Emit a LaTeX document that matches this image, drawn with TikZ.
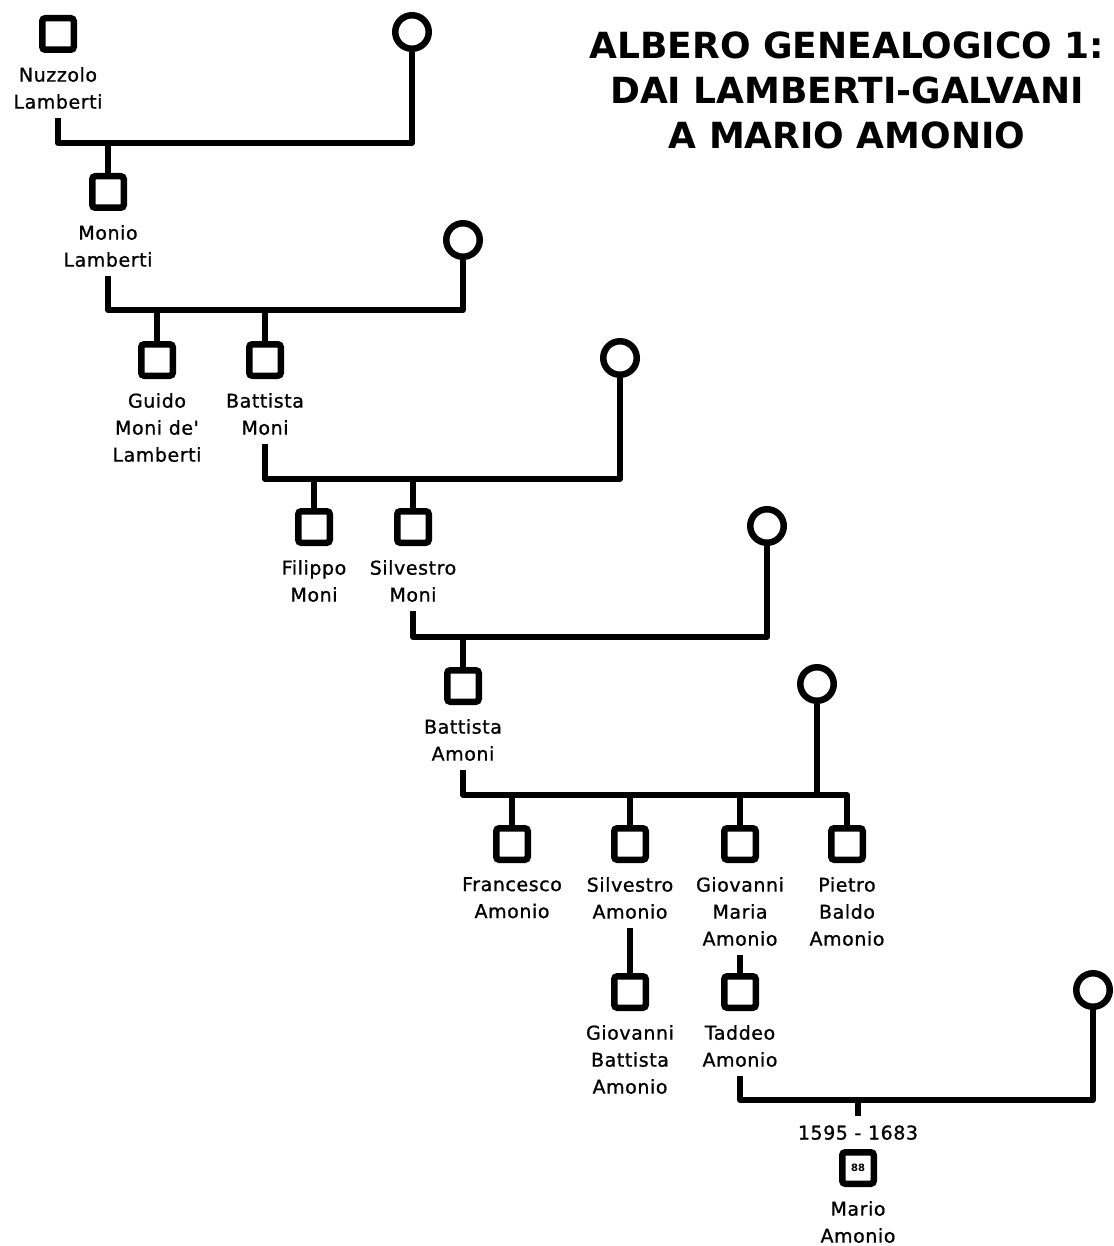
\documentclass[tikz,border=0pt]{standalone}
\usepackage{fontspec}
\setmainfont{DejaVu Sans}
\newfontfamily\tagfont[FakeBold=1, LetterSpace=3]{DejaVu Sans}
\usepackage{tikz}
\usetikzlibrary{positioning, calc}
\tikzset{
  male/.style={draw, line width=6.5pt, rounded corners=3pt, minimum size=31.5pt, inner sep=0pt, fill=white},
  female/.style={draw, circle, line width=6.5pt, minimum size=33.5pt, inner sep=0pt, fill=white},
  nametag/.style={align=center, inner sep=0pt, font=\tagfont\fontsize{19}{27}\selectfont},
  bond/.style={line width=6pt, line join=round},
  title/.style={align=center, inner sep=0pt, font=\fontsize{36}{45}\selectfont\bfseries}
}

\begin{document}
\begin{tikzpicture}[x=1pt, y=-1pt]
	\useasboundingbox (0,0) rectangle (1113,1246);

	\node[title] (title) at (847,90) {ALBERO GENEALOGICO 1:\\DAI LAMBERTI-GALVANI\\A MARIO AMONIO};

	% generation 1
	\node[male] (nuzzolo) at (58,34) {};
	\node[nametag, below=14pt of nuzzolo] (nuzzolo-t) {Nuzzolo\\Lamberti};
	\node[female] (nuzzolo-w) at (412,32) {};
	\coordinate (bar1) at (0,143);

	% generation 2
	\node[male] (monio) at (108,192) {};
	\node[nametag, below=14pt of monio] (monio-t) {Monio\\Lamberti};
	\node[female] (monio-w) at (463,240) {};
	\coordinate (bar2) at (0,310);

	% generation 3
	\node[male] (guido) at (157,360) {};
	\node[nametag, below=14pt of guido] (guido-t) {Guido\\Moni de'\\Lamberti};
	\node[male] (battista) at (265,360) {};
	\node[nametag, below=14pt of battista] (battista-t) {Battista\\Moni};
	\node[female] (battista-w) at (620,358) {};
	\coordinate (bar3) at (0,479);

	% generation 4
	\node[male] (filippo) at (314,527) {};
	\node[nametag, below=14pt of filippo] (filippo-t) {Filippo\\Moni};
	\node[male] (silvestro) at (413,527) {};
	\node[nametag, below=14pt of silvestro] (silvestro-t) {Silvestro\\Moni};
	\node[female] (silvestro-w) at (767,526) {};
	\coordinate (bar4) at (0,637);

	% generation 5
	\node[male] (amoni) at (463,686) {};
	\node[nametag, below=14pt of amoni] (amoni-t) {Battista\\Amoni};
	\node[female] (amoni-w) at (817,684) {};
	\coordinate (bar5) at (0,795);

	% generation 6
	\node[male] (francesco) at (512,844) {};
	\node[nametag, below=14pt of francesco] (francesco-t) {Francesco\\Amonio};
	\node[male] (silvestroa) at (630,844) {};
	\node[nametag, below=14pt of silvestroa] (silvestroa-t) {Silvestro\\Amonio};
	\node[male] (giovannim) at (740,844) {};
	\node[nametag, below=14pt of giovannim] (giovannim-t) {Giovanni\\Maria\\Amonio};
	\node[male] (pietro) at (847,844) {};
	\node[nametag, below=14pt of pietro] (pietro-t) {Pietro\\Baldo\\Amonio};

	% generation 7
	\node[male] (giovannib) at (630,992) {};
	\node[nametag, below=14pt of giovannib] (giovannib-t) {Giovanni\\Battista\\Amonio};
	\node[male] (taddeo) at (740,992) {};
	\node[nametag, below=14pt of taddeo] (taddeo-t) {Taddeo\\Amonio};
	\node[female] (taddeo-w) at (1093,990) {};
	\coordinate (bar7) at (0,1100);

	% generation 8
	\node[male, font=\fontsize{10}{10}\selectfont\bfseries] (mario) at (858,1168) {88};
	\node[nametag, above=9pt of mario] (mario-d) {1595 - 1683};
	\node[nametag, below=14pt of mario] (mario-t) {Mario\\Amonio};

	% marriages
	\draw[bond] ([yshift=-9pt]nuzzolo-t.south) -- (bar1 -| nuzzolo) -- (bar1 -| nuzzolo-w) -- (nuzzolo-w);
	\draw[bond] ([yshift=-9pt]monio-t.south) -- (bar2 -| monio) -- (bar2 -| monio-w) -- (monio-w);
	\draw[bond] ([yshift=-9pt]battista-t.south) -- (bar3 -| battista) -- (bar3 -| battista-w) -- (battista-w);
	\draw[bond] ([yshift=-9pt]silvestro-t.south) -- (bar4 -| silvestro) -- (bar4 -| silvestro-w) -- (silvestro-w);
	\draw[bond] ([yshift=-9pt]amoni-t.south) -- (bar5 -| amoni) -- (bar5 -| pietro) -- (pietro);
	\draw[bond] (bar5 -| amoni-w) -- (amoni-w);
	\draw[bond] ([yshift=-9pt]taddeo-t.south) -- (bar7 -| taddeo) -- (bar7 -| taddeo-w) -- (taddeo-w);

	% children
	\draw[bond] (bar1 -| monio) -- (monio);
	\draw[bond] (bar2 -| guido) -- (guido);
	\draw[bond] (bar2 -| battista) -- (battista);
	\draw[bond] (bar3 -| filippo) -- (filippo);
	\draw[bond] (bar3 -| silvestro) -- (silvestro);
	\draw[bond] (bar4 -| amoni) -- (amoni);
	\draw[bond] (bar5 -| francesco) -- (francesco);
	\draw[bond] (bar5 -| silvestroa) -- (silvestroa);
	\draw[bond] (bar5 -| giovannim) -- (giovannim);
	\draw[bond] ([yshift=-9pt]silvestroa-t.south) -- (giovannib);
	\draw[bond] ([yshift=-9pt]giovannim-t.south) -- (taddeo);
	\draw[bond] (bar7 -| mario) -- ([yshift=9pt]mario-d.north);
\end{tikzpicture}
\end{document}
